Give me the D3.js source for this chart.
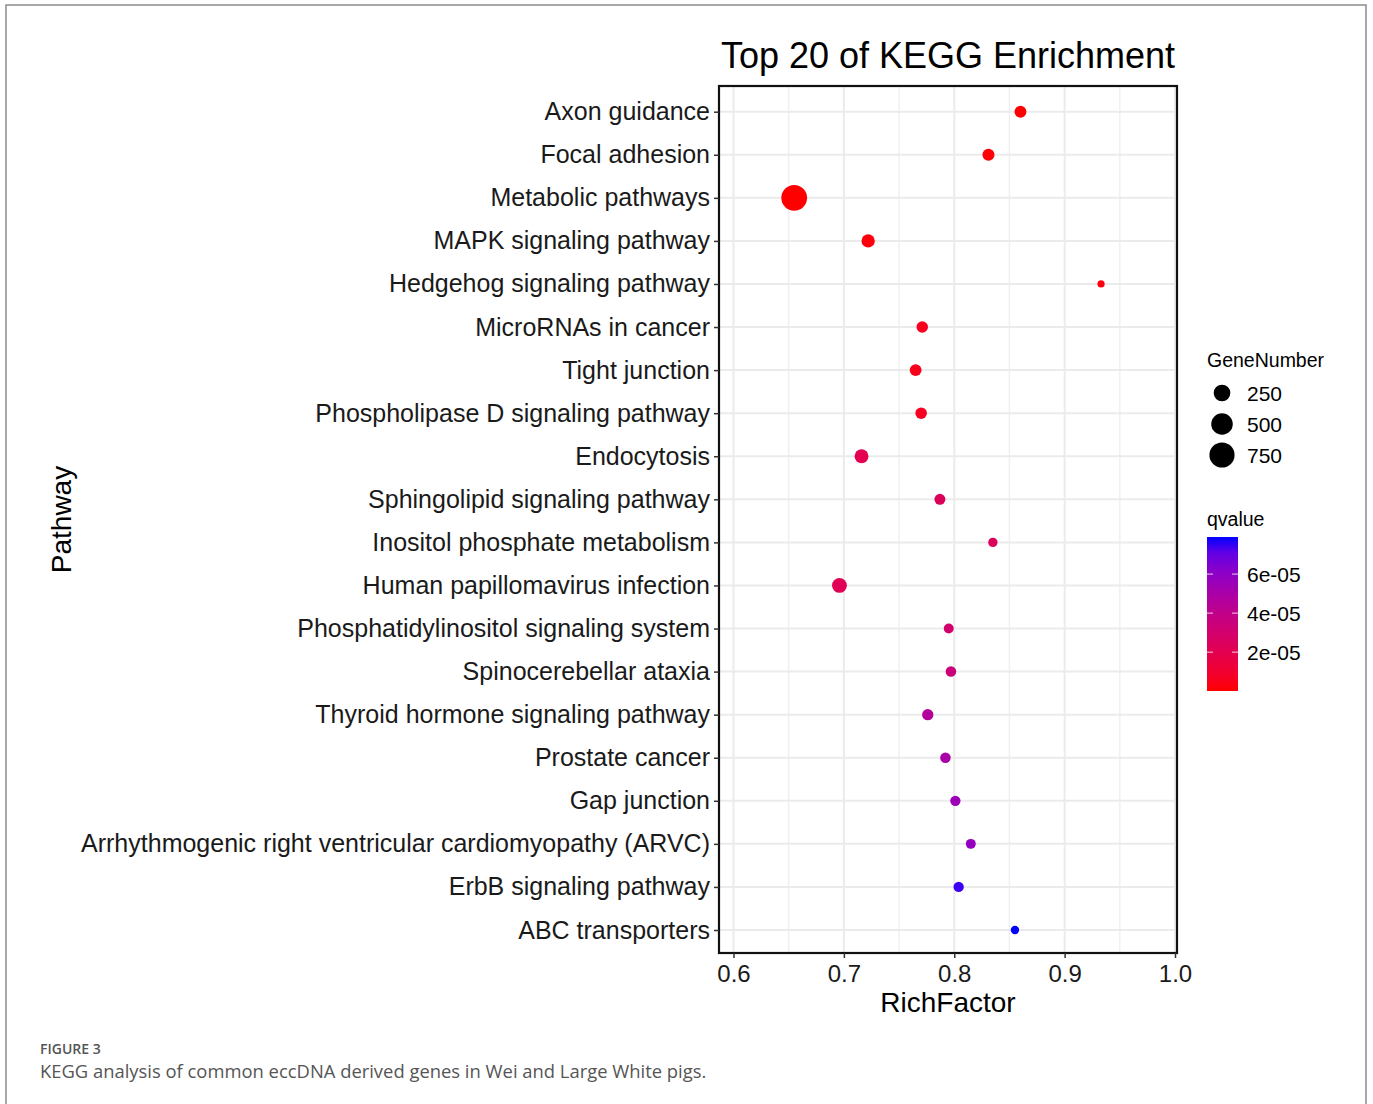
<!DOCTYPE html>
<html>
<head>
<meta charset="utf-8">
<script src="https://cdn.jsdelivr.net/npm/d3@7"></script>
<style>
  body { margin: 0; background: #fff; }
  svg { display: block; }
</style>
</head>
<body>
<div id="viz-container"></div>
<script>
// Top 20 KEGG pathways, top to bottom
const pathways = [
  "Axon guidance", "Focal adhesion", "Metabolic pathways", "MAPK signaling pathway",
  "Hedgehog signaling pathway", "MicroRNAs in cancer", "Tight junction",
  "Phospholipase D signaling pathway", "Endocytosis", "Sphingolipid signaling pathway",
  "Inositol phosphate metabolism", "Human papillomavirus infection",
  "Phosphatidylinositol signaling system", "Spinocerebellar ataxia",
  "Thyroid hormone signaling pathway", "Prostate cancer", "Gap junction",
  "Arrhythmogenic right ventricular cardiomyopathy (ARVC)", "ErbB signaling pathway",
  "ABC transporters"
];
const richFactor = [0.860, 0.831, 0.655, 0.722, 0.933, 0.771, 0.765, 0.770, 0.716, 0.787,
                    0.835, 0.696, 0.795, 0.797, 0.776, 0.792, 0.801, 0.815, 0.804, 0.855];
const geneNumber = [107, 111, 800, 139, 60, 100, 107, 100, 155, 90,
                    70, 185, 76, 84, 96, 84, 81, 76, 81, 63];
const qvalue = [3e-7, 8e-7, 1e-7, 1.5e-6, 2e-6, 5e-6, 4e-6, 6e-6, 2.0e-5, 2.4e-5,
                2.4e-5, 2.2e-5, 3.0e-5, 3.5e-5, 4.6e-5, 5.0e-5, 5.5e-5, 5.8e-5, 7.6e-5, 7.9e-5];
const xTicks = [0.6, 0.7, 0.8, 0.9, 1.0];
const xMinor = [0.65, 0.75, 0.85, 0.95];
const sizeBreaks = [250, 500, 750];
const qBreaks = [2e-5, 4e-5, 6e-5];

const data = pathways.map((p, i) => ({ name: p, rf: richFactor[i], n: geneNumber[i], q: qvalue[i] }));

const W = 1373, H = 1104;
const font = "'Liberation Sans', Arial, sans-serif";
const svg = d3.select("#viz-container").append("svg").attr("width", W).attr("height", H);

// page frame
svg.append("path").attr("d", `M6,${H + 5} V5 H1366 V${H + 5}`)
  .attr("fill", "none").attr("stroke", "#8c8c8c").attr("stroke-width", 1.5);

// panel
const px0 = 719, px1 = 1177, py0 = 86, py1 = 953;
const x = d3.scaleLinear().domain([0.6, 1.0]).range([733.5, 1175]);
const y = d3.scalePoint().domain(pathways).range([111.7, 930]);

// ggplot-like area scale
const nExt = d3.extent(geneNumber);
const nNorm = d3.scaleLinear().domain(nExt).range([0, 1]);
const rOut = d3.scaleLinear().domain([0, 1]).range([3.6, 12.9]);
const r = v => rOut(Math.sqrt(Math.max(0, nNorm(v))));

const qExt = d3.extent(qvalue);
const color = d3.scaleLinear().domain(qExt).range(["red", "blue"]).interpolate(d3.interpolateLab);

const g = svg.append("g");
g.append("rect").attr("x", px0).attr("y", py0).attr("width", px1 - px0).attr("height", py1 - py0).attr("fill", "#fff");

// grid
g.append("g").selectAll("line").data(xMinor).join("line")
  .attr("x1", d => x(d)).attr("x2", d => x(d)).attr("y1", py0).attr("y2", py1)
  .attr("stroke", "#f0f0f0").attr("stroke-width", 1.5);
g.append("g").selectAll("line").data(xTicks).join("line")
  .attr("x1", d => x(d)).attr("x2", d => x(d)).attr("y1", py0).attr("y2", py1)
  .attr("stroke", "#ebebeb").attr("stroke-width", 2);
g.append("g").selectAll("line").data(pathways).join("line")
  .attr("x1", px0).attr("x2", px1).attr("y1", d => y(d)).attr("y2", d => y(d))
  .attr("stroke", "#ebebeb").attr("stroke-width", 2);

// points
g.append("g").selectAll("circle").data(data).join("circle")
  .attr("cx", d => x(d.rf)).attr("cy", d => y(d.name))
  .attr("r", d => r(d.n)).attr("fill", d => color(d.q));

// border
g.append("rect").attr("x", px0).attr("y", py0).attr("width", px1 - px0).attr("height", py1 - py0)
  .attr("fill", "none").attr("stroke", "#111").attr("stroke-width", 2.2);

// axes
const xAxis = svg.append("g").attr("transform", `translate(0,${py1})`)
  .call(d3.axisBottom(x).tickValues(xTicks).tickFormat(d3.format(".1f")).tickSize(5).tickPadding(7));
xAxis.select(".domain").remove();
xAxis.selectAll("line").attr("stroke", "#333").attr("stroke-width", 1.5);
xAxis.selectAll("text").attr("font-family", font).attr("font-size", 24).attr("fill", "#1a1a1a");

const yAxis = svg.append("g").attr("transform", `translate(${px0},0)`)
  .call(d3.axisLeft(y).tickSize(5).tickPadding(4));
yAxis.select(".domain").remove();
yAxis.selectAll("line").attr("stroke", "#333").attr("stroke-width", 1.5);
yAxis.selectAll("text").attr("font-family", font).attr("font-size", 25).attr("fill", "#1a1a1a");

// titles
svg.append("text").attr("x", (px0 + px1) / 2).attr("y", 68).attr("text-anchor", "middle")
  .attr("font-family", font).attr("font-size", 36).attr("fill", "#000").text("Top 20 of KEGG Enrichment");
svg.append("text").attr("x", (px0 + px1) / 2).attr("y", 1012).attr("text-anchor", "middle")
  .attr("font-family", font).attr("font-size", 28).attr("fill", "#000").text("RichFactor");
svg.append("text").attr("transform", `translate(71,${(py0 + py1) / 2}) rotate(-90)`).attr("text-anchor", "middle")
  .attr("font-family", font).attr("font-size", 28).attr("fill", "#000").text("Pathway");

// size legend
const lg = svg.append("g");
lg.append("text").attr("x", 1207).attr("y", 367).attr("font-family", font).attr("font-size", 19.5).text("GeneNumber");
const sItems = lg.selectAll("g.s").data(sizeBreaks).join("g").attr("class", "s")
  .attr("transform", (d, i) => `translate(1222,${393 + i * 31})`);
sItems.append("circle").attr("r", d => r(d)).attr("fill", "#000");
sItems.append("text").attr("x", 25).attr("dy", "0.36em").attr("font-family", font).attr("font-size", 21).text(d => d);

// qvalue colorbar
lg.append("text").attr("x", 1207).attr("y", 526).attr("font-family", font).attr("font-size", 19.5).text("qvalue");
const cbTop = 537, cbBot = 691, cbX = 1207, cbW = 31;
const cb = d3.scaleLinear().domain(qExt).range([cbBot, cbTop]);
const grad = svg.append("defs").append("linearGradient").attr("id", "qgrad")
  .attr("x1", 0).attr("y1", 1).attr("x2", 0).attr("y2", 0);
grad.selectAll("stop").data(d3.range(0, 1.0001, 0.1)).join("stop")
  .attr("offset", d => d).attr("stop-color", d => color(qExt[0] + d * (qExt[1] - qExt[0])));
lg.append("rect").attr("x", cbX).attr("y", cbTop).attr("width", cbW).attr("height", cbBot - cbTop).attr("fill", "url(#qgrad)");
const qt = lg.selectAll("g.q").data(qBreaks).join("g").attr("class", "q")
  .attr("transform", d => `translate(0,${cb(d)})`);
qt.append("line").attr("x1", cbX).attr("x2", cbX + 6).attr("stroke", "#fff").attr("stroke-opacity", 0.8);
qt.append("line").attr("x1", cbX + cbW - 6).attr("x2", cbX + cbW).attr("stroke", "#fff").attr("stroke-opacity", 0.8);
qt.append("text").attr("x", 1247).attr("dy", "0.36em").attr("font-family", font).attr("font-size", 21)
  .text(d => d3.format(".0e")(d).replace(/e-(\d)$/, "e-0$1"));

// caption
svg.append("text").attr("x", 40).attr("y", 1054).attr("font-family", "'Open Sans', sans-serif")
  .attr("font-size", 14).attr("font-weight", 600).attr("fill", "#555").text("FIGURE 3");
svg.append("text").attr("x", 40).attr("y", 1078).attr("font-family", "'Open Sans', sans-serif")
  .attr("font-size", 18.4).attr("fill", "#555")
  .text("KEGG analysis of common eccDNA derived genes in Wei and Large White pigs.");
</script>
</body>
</html>
